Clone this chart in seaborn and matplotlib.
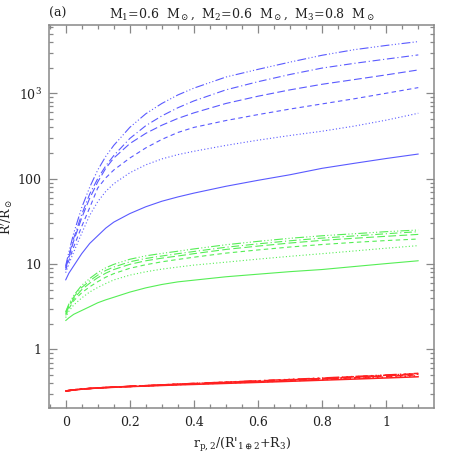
import numpy as np
import pandas as pd
import matplotlib
matplotlib.use("Agg")
import matplotlib.pyplot as plt
import matplotlib.ticker as mticker
import seaborn as sns

# sample points along r_p,2/(R'_1+2 + R_3)
x = [0, 0.01, 0.025, 0.05, 0.075, 0.1, 0.125, 0.15, 0.2, 0.25,
     0.3, 0.35, 0.4, 0.5, 0.6, 0.7, 0.8, 0.9, 1.0, 1.1]

# blue set (largest radii)
blue_solid = [6.5, 7.8, 9.5, 13.2, 17.4, 21.4, 26.3, 30.9, 38.9, 46.8,
              54.3, 61, 67.6, 81.3, 95.5, 111, 132, 151, 172, 194]
blue_dot = [7.9, 10, 13.8, 22.9, 37.2, 53.7, 70.8, 87.1, 117, 145,
            170, 191, 209, 245, 282, 320, 359, 412, 484, 583]
blue_dash = [8.5, 11.0, 15.8, 27.5, 45.7, 77.6, 102, 126, 174, 229,
             288, 347, 398, 479, 562, 653, 750, 861, 1000, 1164]
blue_ldash = [8.9, 12.0, 18.6, 34.7, 58.9, 91.2, 132, 174, 257, 339,
              422, 507, 589, 759, 923, 1096, 1274, 1445, 1641, 1875]
blue_dashdot = [9.1, 12.6, 20, 38, 66, 100, 141, 186, 295, 417,
                543, 676, 813, 1096, 1365, 1660, 1972, 2239, 2512, 2812]
blue_dashdot3 = [9.5, 13.8, 22.9, 45.7, 79.4, 126, 182, 245, 398, 575,
                 759, 955, 1148, 1549, 1905, 2317, 2786, 3236, 3631, 4027]

# green set
green_solid = [2.17, 2.34, 2.57, 2.85, 3.16, 3.51, 3.80, 4.07, 4.68, 5.25,
               5.75, 6.17, 6.46, 7.08, 7.59, 8.13, 8.61, 9.33, 10.1, 10.9]
green_dot = [2.35, 2.8, 3.3, 4.0, 4.7, 5.3, 5.9, 6.5, 7.4, 8.1,
             8.7, 9.2, 9.7, 10.5, 11.4, 12.3, 13.2, 14.2, 15.3, 16.4]
green_dash = [2.5, 3.0, 3.7, 4.6, 5.4, 6.2, 7.0, 7.7, 8.9, 9.8,
              10.6, 11.3, 12.0, 13.4, 14.6, 15.8, 16.9, 17.9, 18.8, 19.6]
green_ldash = [2.6, 3.15, 3.9, 5.0, 5.95, 6.9, 7.8, 8.6, 9.9, 10.9,
               11.7, 12.4, 13.2, 14.8, 16.2, 17.6, 18.9, 20.0, 21.1, 22.2]
green_dashdot = [2.7, 3.3, 4.1, 5.3, 6.35, 7.4, 8.4, 9.2, 10.6, 11.6,
                 12.4, 13.2, 14.0, 15.7, 17.2, 18.7, 20.1, 21.3, 22.6, 23.9]
green_dashdot3 = [2.75, 3.39, 4.27, 5.62, 6.76, 7.94, 9.02, 9.89, 11.35, 12.45,
                  13.3, 14.1, 15.0, 16.8, 18.4, 20.0, 21.4, 22.6, 23.9, 25.0]

# red set
red_solid = [0.324, 0.328, 0.334, 0.341, 0.347, 0.352, 0.356, 0.359, 0.366, 0.371,
             0.377, 0.383, 0.388, 0.399, 0.410, 0.422, 0.435, 0.448, 0.462, 0.477]
red_dot = [0.325, 0.329, 0.335, 0.342, 0.348, 0.353, 0.357, 0.360, 0.367, 0.373,
           0.380, 0.386, 0.392, 0.403, 0.415, 0.428, 0.442, 0.457, 0.473, 0.490]
red_dash = [0.325, 0.329, 0.335, 0.342, 0.348, 0.353, 0.357, 0.361, 0.368, 0.375,
            0.382, 0.389, 0.395, 0.407, 0.420, 0.434, 0.449, 0.465, 0.483, 0.503]
red_ldash = [0.325, 0.329, 0.335, 0.342, 0.348, 0.353, 0.357, 0.361, 0.368, 0.375,
             0.383, 0.390, 0.397, 0.410, 0.424, 0.439, 0.455, 0.472, 0.491, 0.512]
red_dashdot = [0.325, 0.329, 0.335, 0.342, 0.348, 0.353, 0.357, 0.361, 0.368, 0.375,
               0.383, 0.391, 0.398, 0.412, 0.426, 0.442, 0.458, 0.477, 0.497, 0.519]
red_dashdot3 = [0.325, 0.329, 0.335, 0.342, 0.348, 0.353, 0.357, 0.361, 0.368, 0.375,
                0.383, 0.391, 0.398, 0.413, 0.428, 0.444, 0.461, 0.480, 0.500, 0.523]

curves = {
    "blue": [blue_solid, blue_dot, blue_dash, blue_ldash, blue_dashdot, blue_dashdot3],
    "green": [green_solid, green_dot, green_dash, green_ldash, green_dashdot, green_dashdot3],
    "red": [red_solid, red_dot, red_dash, red_ldash, red_dashdot, red_dashdot3],
}
styles = ["solid", "dot", "dash", "ldash", "dashdot", "dashdot3"]

rows = []
for grp, lst in curves.items():
    for st, vals in zip(styles, lst):
        for xi, yi in zip(x, vals):
            rows.append((grp, st, xi, yi))
df = pd.DataFrame(rows, columns=["set", "curve", "x", "R"])

sns.set_style("ticks")
plt.rcParams["font.family"] = ["DejaVu Serif", "DejaVu Sans"]
plt.rcParams["mathtext.fontset"] = "dejavuserif"

fig = plt.figure(figsize=(4.58, 4.58), dpi=100)
ax = fig.add_axes([0.1077, 0.109, 0.8399, 0.8364])

pal = {"blue": "#5a5aff", "green": "#55ee55", "red": "#ff2020"}
dash_map = {
    "solid": "",
    "dot": (1, 2),
    "dash": (4, 3),
    "ldash": (7, 3),
    "dashdot": (7, 2.5, 1, 2.5),
    "dashdot3": (8, 2, 1, 2, 1, 2, 1, 2),
}
sns.lineplot(data=df[df["set"] != "red"], x="x", y="R", hue="set", style="curve",
             palette=pal, dashes=dash_map, estimator=None, legend=False, lw=0.8, ax=ax)
sns.lineplot(data=df[df["set"] == "red"], x="x", y="R", hue="set", style="curve",
             palette=pal, dashes=dash_map, estimator=None, legend=False, lw=1.1, ax=ax)

ax.set_yscale("log")
ax.set_xlim(-0.051, 1.149)
ax.set_ylim(0.205, 6300)

ax.xaxis.set_major_locator(mticker.FixedLocator([0, 0.2, 0.4, 0.6, 0.8, 1.0]))
ax.xaxis.set_major_formatter(mticker.FixedFormatter(["0", "0.2", "0.4", "0.6", "0.8", "1"]))
ax.xaxis.set_minor_locator(mticker.MultipleLocator(0.05))
ax.yaxis.set_major_locator(mticker.FixedLocator([1, 10, 100, 1000]))
ax.yaxis.set_major_formatter(mticker.FixedFormatter(["1", "10", "100", r"10$^3$"]))
ax.yaxis.set_minor_locator(mticker.LogLocator(base=10, subs=np.arange(2, 10), numticks=20))
ax.yaxis.set_minor_formatter(mticker.NullFormatter())

ax.tick_params(which="both", direction="in", top=True, right=True, color="#888888", width=0.9)
ax.tick_params(which="major", length=6, labelsize=9, pad=5.5, labelcolor="#222222")
ax.tick_params(which="minor", length=3.2)
for sp in ax.spines.values():
    sp.set_color("#888888")
    sp.set_linewidth(1.1)

ax.set_xlabel(r"r$_{\rm p,2}$/(R$'_{1\oplus 2}$+R$_3$)", fontsize=9, color="#222222", labelpad=5)
ax.set_ylabel(r"R$'$/R$_\odot$", fontsize=9, color="#222222")
ax.yaxis.set_label_coords(-0.089, 0.5)
ax.set_title(r"M$_1$=0.6  M$_\odot$,  M$_2$=0.6  M$_\odot$,  M$_3$=0.8  M$_\odot$",
             fontsize=9, color="#222222", pad=5)
ax.text(0.0, 1.022, "(a)", transform=ax.transAxes, fontsize=9, color="#222222",
        ha="left", va="baseline")

fig.savefig("out.png", dpi=100)
